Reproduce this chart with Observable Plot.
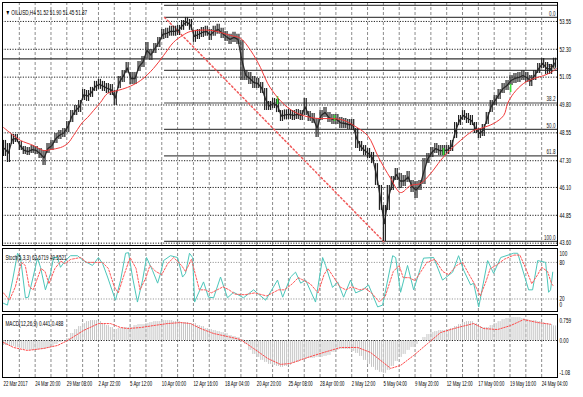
<!DOCTYPE html>
<html><head><meta charset="utf-8">
<script src="https://cdn.jsdelivr.net/npm/d3@7"></script>
<script src="https://cdn.jsdelivr.net/npm/@observablehq/plot@0.6"></script>
<style>
html,body{margin:0;padding:0;background:#fff;}
#chart{position:relative;width:583px;height:397px;overflow:hidden;background:#fff;}
#chart svg{position:absolute;left:0;display:block;}
</style></head><body><div id="chart"></div>
<script>
// ---------- data ----------
const symbol = "OILUSD", timeframe = "H4";
const lastOHLC = [51.52, 51.90, 51.45, 51.87];
const timeLabels = ["22 Mar 2017","24 Mar 20:00","29 Mar 08:00","2 Apr 22:00","5 Apr 12:00","10 Apr 00:00","12 Apr 16:00","18 Apr 04:00","20 Apr 20:00","25 Apr 08:00","28 Apr 00:00","2 May 12:00","5 May 04:00","9 May 20:00","12 May 12:00","17 May 00:00","19 May 16:00","24 May 04:00"];
const priceTicks = [53.55, 52.30, 51.05, 49.80, 48.55, 47.30, 46.10, 44.85, 43.60];
const upperLine = [54.27];

// price bars (one entry per two H4 bars)
const barHigh = [
48.21,48.07,48.48,48.48,48.16,47.94,47.89,47.98,47.94,47.85,
47.76,48.07,48.21,48.52,48.66,48.75,49.06,49.55,49.78,50.00,
50.50,50.45,50.59,50.86,50.95,50.86,50.77,50.72,50.45,51.08,
51.35,51.71,51.26,51.26,51.75,51.98,52.61,52.29,52.56,52.83,
53.19,53.24,53.33,53.33,53.37,53.59,53.73,53.64,53.15,53.19,
53.28,53.33,53.19,53.33,53.42,53.24,53.10,52.97,53.06,52.97,
52.70,51.35,51.26,51.08,50.99,50.81,50.54,49.96,50.09,50.05,
49.55,49.58,49.60,49.55,49.60,49.55,50.09,49.51,49.42,49.19,
49.55,49.69,49.46,49.37,49.37,49.24,49.19,49.15,49.15,48.75,
48.16,47.98,47.85,47.67,47.17,46.19,45.29,46.19,46.59,46.95,
46.73,46.64,46.82,46.41,46.37,46.41,47.40,47.62,47.89,48.07,
47.98,47.98,47.98,48.21,49.01,49.33,49.55,49.42,49.33,49.01,
48.75,48.93,49.46,50.00,50.23,50.50,50.77,50.90,51.12,51.21,
51.26,51.35,51.26,51.12,51.35,51.66,51.89,51.71,51.62,51.90];
const barLow = [
47.49,47.22,48.03,48.12,47.76,47.58,47.53,47.62,47.58,47.40,
47.09,47.62,47.76,48.07,48.25,48.34,48.57,49.01,49.33,49.46,
50.00,49.96,50.14,50.41,50.50,50.41,50.32,50.23,49.78,50.54,
50.81,51.22,50.72,50.72,51.30,51.48,51.89,51.80,52.11,52.38,
52.74,52.79,52.88,52.88,52.92,53.15,53.33,53.15,52.61,52.74,
52.83,52.88,52.70,52.88,52.97,52.79,52.65,52.52,52.61,52.52,
50.90,50.90,50.72,50.54,50.54,50.32,49.55,49.55,49.64,49.46,
49.06,49.13,49.15,49.11,49.15,49.11,49.33,49.06,48.97,48.34,
49.11,49.24,49.01,48.93,48.93,48.75,48.75,48.70,48.66,47.85,
47.71,47.53,47.40,47.17,46.19,45.07,43.67,45.07,45.96,46.41,
46.05,46.14,46.32,45.87,45.60,45.96,46.23,47.17,47.44,47.62,
47.53,47.53,47.58,47.71,48.30,48.88,49.11,48.97,48.88,48.52,
48.30,48.39,48.93,49.46,49.78,50.05,50.32,50.45,50.68,50.77,
50.81,50.90,50.81,50.63,50.90,51.21,51.44,51.17,51.17,51.45];
const upBarIndex = [138.5, 167.3, 222.4, 256.3];
const upBarHigh = [50.18, 49.33, 47.85, 50.72];
const upBarLow  = [49.82, 49.06, 47.53, 50.36];

// moving average
const maBar = [0,5.1,8.6,15.2,20.2,23.8,28.8,32.4,35.4,37.4,39.9,42.5,45.5,49.0,52.6,57.6,62.7,69.3,75.8,80.9,85.9,90.5,94.5,104.7,114.8,119.8,124.9,129.9,133.5,138.5,143.6,148.6,155.2,160.3,166.8,172.0,177.0,184.0,189.6,195.7,200.7,205.8,210.8,215.9,220.9,224.5,231.0,237.6,241.2,247.7,252.8,254.8,257.8,262.9,268.0,273.0,276.6,279.6];
const maValue = [48.79,48.43,48.21,47.98,47.76,47.80,47.89,48.07,48.43,48.70,49.02,49.24,49.55,49.91,50.32,50.45,50.59,50.90,51.44,52.02,52.61,52.92,53.10,53.15,52.92,52.79,52.25,51.48,50.77,50.14,49.69,49.42,49.24,49.19,49.19,49.11,48.88,48.43,47.44,46.50,45.87,46.19,46.28,46.73,47.31,47.67,48.21,48.66,48.75,48.97,49.33,49.87,50.32,50.77,50.99,51.12,51.26,51.44];

// Fibonacci retracement
const fibLevels = [0, 23.6, 38.2, 50, 61.8, 100];
const fibAnchorBar = [81.4, 192.1];
const fibAnchorPrice = [53.73, 43.68];

// Stochastic
const stochName = "Stoch(5,3,3)";
const stochReadout = [63.6719, 40.5521];
const stochLevels = [100, 80, 20, 0];
const stochMainBar = [0,2,4.6,7.1,8.6,11.1,12.6,17.2,18.7,21.2,23.8,25.3,27.3,28.8,31.3,33.9,37.4,40.4,45.0,48.0,50.1,52.6,56.6,59.2,61.7,63.2,65.2,67.7,70.3,72.3,75.3,77.9,79.4,80.9,84.4,88.0,90.5,92.0,94.0,95.6,96.6,98.6,101.1,103.6,106.2,109.7,113.2,116.3,121.3,126.4,132.5,138.5,141.1,145.1,147.6,150.2,152.7,157.7,161.3,162.8,166.3,168.9,171.9,175.4,178.0,181.5,184.5,189.1,191.6,196.7,198.2,200.7,204.2,207.3,212.3,217.4,221.9,227.0,230.0,232.6,236.1,237.6,240.2,244.7,247.7,251.3,257.8,259.9,265.4,267.4,270.0,274.0,275.5,276.5,277.6];
const stochMainValue = [13,10,51,95,88,22,23,87,72,35,62,88,88,72,83,91,91,83,75,88,78,56,18,51,95,96,56,15,51,88,67,46,62,83,91,88,56,62,95,88,15,30,48,23,22,56,22,31,22,35,18,51,23,56,64,46,51,15,88,75,39,48,23,51,30,35,43,7,10,91,88,31,75,35,87,88,51,64,91,67,43,46,7,83,62,88,95,95,35,35,83,80,31,35,64];
const stochSigBar = [0,3,6,9,11,13,15,19,21,23,26,29,31,34,39,42,47,50,53,56,58,61,64,67,69,72,74,77,80,83,86,90,92,95,97,99,102,105,108,111,114,117,122,127,133,139,142,146,149,152,155,159,162,164,167,170,173,176,180,183,186,190,193,197,200,202,205,208,211,214,218,222,225,229,232,235,238,241,244,246,249,253,258,261,264,267,270,272,275,277,278];
const stochSigValue = [30,18,40,80,75,40,35,70,65,45,70,82,78,85,88,80,80,80,70,40,30,60,88,70,35,55,75,65,60,78,88,75,65,85,60,35,35,30,35,40,35,28,27,30,25,35,35,45,55,50,45,30,60,70,55,40,35,40,35,37,30,15,25,65,75,55,55,50,65,80,85,65,60,75,80,62,45,25,50,70,75,85,92,92,70,45,60,72,65,45,41];

// MACD
const macdName = "MACD(12,26,9)";
const macdReadout = [0.441, 0.488];
const macdAxis = [0.759, 0, -1.08];
const macdHist = [
-0.15,-0.15,-0.18,-0.21,-0.24,-0.27,-0.30,-0.30,-0.30,-0.27,
-0.27,-0.24,-0.18,-0.12,-0.06,0.00,0.06,0.21,0.33,0.42,
0.51,0.57,0.60,0.60,0.57,0.51,0.45,0.39,0.33,0.36,
0.39,0.39,0.39,0.45,0.48,0.48,0.51,0.54,0.57,0.57,
0.60,0.60,0.60,0.57,0.57,0.54,0.54,0.51,0.51,0.45,
0.42,0.36,0.33,0.30,0.27,0.24,0.21,0.15,0.12,0.09,
0.03,-0.12,-0.30,-0.42,-0.51,-0.60,-0.66,-0.72,-0.75,-0.78,
-0.81,-0.78,-0.75,-0.69,-0.66,-0.60,-0.57,-0.54,-0.54,-0.51,
-0.51,-0.48,-0.45,-0.36,-0.30,-0.27,-0.27,-0.27,-0.33,-0.39,
-0.48,-0.60,-0.72,-0.81,-0.90,-0.96,-0.99,-0.90,-0.78,-0.63,
-0.51,-0.42,-0.30,-0.21,-0.12,0.00,0.09,0.18,0.24,0.27,
0.30,0.30,0.33,0.36,0.42,0.48,0.54,0.57,0.57,0.51,
0.42,0.39,0.39,0.45,0.51,0.57,0.63,0.66,0.69,0.69,
0.69,0.66,0.63,0.60,0.60,0.57,0.54,0.51,0.48,0.44];
const macdSigBar = [0,5.1,12.1,20.2,27.3,32.4,40.4,48.0,54.1,59.2,62.7,69.3,75.8,82.9,89.5,94.5,99.6,106.2,113.2,119.8,126.4,133.5,140.0,145.1,153.7,161.8,170.4,179.0,185.5,190.6,195.7,200.7,207.3,214.4,220.9,229.5,237.6,242.7,249.7,256.3,262.9,270.0,276.5];
const macdSigValue = [-0.06,-0.21,-0.30,-0.24,-0.15,0.00,0.30,0.51,0.51,0.39,0.36,0.39,0.45,0.51,0.54,0.51,0.36,0.21,0.12,0.03,-0.24,-0.54,-0.72,-0.69,-0.51,-0.36,-0.21,-0.21,-0.36,-0.60,-0.84,-0.75,-0.45,-0.09,0.24,0.39,0.51,0.36,0.33,0.45,0.63,0.54,0.49];

// ---------- build ----------
const W = 583, XD = [-0.5, 280], ML = 2, MR = 26;
const FONT = "'Liberation Sans', Arial, sans-serif";
const style = {fontFamily: FONT, fontSize: "7px", color: "#000", background: "transparent", overflow: "visible"};
const gridBars = d3.range(8, 273, 8);
const labelBars = timeLabels.map((d, i) => i * 16);
const vgrid = () => Plot.ruleX(gridBars, {stroke: "#8c8c8c", strokeDasharray: "3,2"});

const bars = barHigh.flatMap((h, i) => [{b: 2 * i, h, l: barLow[i]}, {b: 2 * i + 1, h, l: barLow[i]}]);
const barMid = barHigh.map((h, i) => ({b: 2 * i + 0.5, m: (h + barLow[i]) / 2}));
const upBars = upBarIndex.map((b, i) => ({b, h: upBarHigh[i], l: upBarLow[i]}));
const ma = maBar.map((b, i) => ({b, v: maValue[i]}));
const fibHi = fibAnchorPrice[0], fibLo = fibAnchorPrice[1];
const fibY = l => fibHi - (fibHi - fibLo) * l / 100;
const title = `▼ ${symbol},${timeframe} ${lastOHLC.map(v => v.toFixed(2)).join(" ")}`;

const main = Plot.plot({
  width: W, height: 246, marginLeft: ML, marginRight: MR, marginTop: 2, marginBottom: 1,
  x: {domain: XD, axis: null}, y: {domain: [43.495, 54.40], axis: null}, style,
  marks: [
    vgrid(),
    Plot.ruleY(priceTicks, {stroke: "#222", strokeDasharray: "1.2,1.4"}),
    Plot.ruleY(fibLevels, {y: fibY, x1: fibAnchorBar[0], x2: XD[1], stroke: "#4a4a4a", strokeWidth: 1.2}),
    Plot.ruleY(upperLine, {x1: fibAnchorBar[0], x2: XD[1], stroke: "#4a4a4a", strokeWidth: 1.2}),
    Plot.ruleY([lastOHLC[3]], {stroke: "#333", strokeWidth: 1.2}),
    Plot.line(fibAnchorBar.map((b, i) => [b, fibAnchorPrice[i]]), {stroke: "#f05a5a", strokeDasharray: "1.5,2.5"}),
    Plot.line(barMid, {x: "b", y: "m", stroke: "#333", strokeWidth: 1.3}),
    Plot.ruleX(bars, {x: "b", y1: "l", y2: "h", stroke: "#222", strokeWidth: 1.2}),
    Plot.ruleX(upBars, {x: "b", y1: "l", y2: "h", stroke: "#3ee23e", strokeWidth: 1.6}),
    Plot.line(ma, {x: "b", y: "v", stroke: "#f23a3a", strokeWidth: 1, curve: "catmull-rom"}),
    Plot.text(fibLevels, {y: fibY, text: l => l.toFixed(1), frameAnchor: "right", textAnchor: "end", dx: -2, dy: -4, fill: "#222"}),
    Plot.text(priceTicks, {y: d => d, text: d => d.toFixed(2), frameAnchor: "right", textAnchor: "start", dx: 2}),
    Plot.text([lastOHLC[3]], {y: d => d, text: d => d.toFixed(2), frameAnchor: "right", textAnchor: "start", dx: 2, fill: "white", ariaLabel: "pricebox"}),
    Plot.text([title], {frameAnchor: "top-left", dx: 3, dy: 8}),
    Plot.frame({stroke: "#000"})
  ]
});

const stochMain = stochMainBar.map((b, i) => ({b, v: stochMainValue[i]}));
const stochSig = stochSigBar.map((b, i) => ({b, v: stochSigValue[i]}));
const stoch = Plot.plot({
  width: W, height: 66, marginLeft: ML, marginRight: MR, marginTop: 2, marginBottom: 1,
  x: {domain: XD, axis: null}, y: {domain: [-0.5, 102.8], axis: null}, style,
  marks: [
    vgrid(),
    Plot.ruleY(stochLevels.filter(l => l > 0 && l < 100), {stroke: "#9a9a9a", strokeDasharray: "1.2,1.4"}),
    Plot.line(stochMain, {x: "b", y: "v", stroke: "#4cc6ba", strokeWidth: 1}),
    Plot.line(stochSig, {x: "b", y: "v", stroke: "#ff5a5a", strokeWidth: 1, strokeDasharray: "2,1.5"}),
    Plot.text(stochLevels.filter(l => l > 0 && l < 100), {y: d => d, text: d => String(d), frameAnchor: "right", textAnchor: "start", dx: 2}),
    Plot.text(stochLevels.filter(l => l === 100), {y: d => d, text: d => String(d), frameAnchor: "right", textAnchor: "start", dx: 2, dy: 4}),
    Plot.text(stochLevels.filter(l => l === 0), {y: d => d, text: d => String(d), frameAnchor: "right", textAnchor: "start", dx: 2, dy: -6}),
    Plot.text([`${stochName} ${stochReadout.map(v => v.toFixed(4)).join(" ")}`], {frameAnchor: "top-left", dx: 3, dy: 7}),
    Plot.frame({stroke: "#000"})
  ]
});

const hist = macdHist.flatMap((v, j) => [{b: 2 * j, v}, {b: 2 * j + 1, v}]);
const macdSig = macdSigBar.map((b, i) => ({b, v: macdSigValue[i]}));
const macd = Plot.plot({
  width: W, height: 85, marginLeft: ML, marginRight: MR, marginTop: 2, marginBottom: 20,
  x: {domain: XD, axis: null}, y: {domain: [-1.114, 0.783], axis: null}, style,
  marks: [
    vgrid(),
    Plot.ruleX(hist, {x: "b", y1: 0, y2: "v", stroke: "#c6c6c6", strokeWidth: 1}),
    Plot.ruleY([0], {stroke: "#222", strokeDasharray: "1.2,1.4"}),
    Plot.line(macdSig, {x: "b", y: "v", stroke: "#ff4848", strokeWidth: 1, strokeDasharray: "1.5,1.5"}),
    Plot.text([macdAxis[0]], {y: d => d, text: d => d.toFixed(3), frameAnchor: "right", textAnchor: "start", dx: 2, dy: 5}),
    Plot.text([macdAxis[1]], {y: d => d, text: d => d.toFixed(2), frameAnchor: "right", textAnchor: "start", dx: 2}),
    Plot.text([macdAxis[2]], {y: d => d, text: d => d.toFixed(2), frameAnchor: "right", textAnchor: "start", dx: 2, dy: -4}),
    Plot.text([`${macdName} ${macdReadout.map(v => v.toFixed(3)).join(" ")}`], {frameAnchor: "top-left", dx: 3, dy: 7}),
    Plot.text(timeLabels, {x: (d, i) => labelBars[i], text: d => d, frameAnchor: "bottom", textAnchor: "start", dy: 8, fontSize: 6.5, ariaLabel: "timelabels"}),
    Plot.frame({stroke: "#000"})
  ]
});

const root = document.getElementById("chart");
[[main, 0], [stoch, 246], [macd, 312]].forEach(([svg, top]) => {
  svg.style.top = top + "px";
  root.appendChild(svg);
});

// condense the text horizontally like the terminal font
root.querySelectorAll("text").forEach(t => {
  const w = t.getComputedTextLength();
  const isTime = t.closest('g[aria-label="timelabels"]');
  if (w > 0) {
    t.setAttribute("textLength", (w * (isTime ? 0.68 : 0.66)).toFixed(2));
    t.setAttribute("lengthAdjust", "spacingAndGlyphs");
  }
});
// dark box behind current price
root.querySelectorAll('g[aria-label="pricebox"] text').forEach(t => {
  const bb = t.getBBox();
  const r = document.createElementNS("http://www.w3.org/2000/svg", "rect");
  r.setAttribute("x", bb.x - 1.5); r.setAttribute("y", bb.y - 0.5);
  r.setAttribute("width", bb.width + 3); r.setAttribute("height", bb.height + 1);
  r.setAttribute("fill", "#000");
  t.parentNode.insertBefore(r, t);
});
</script></body></html>
